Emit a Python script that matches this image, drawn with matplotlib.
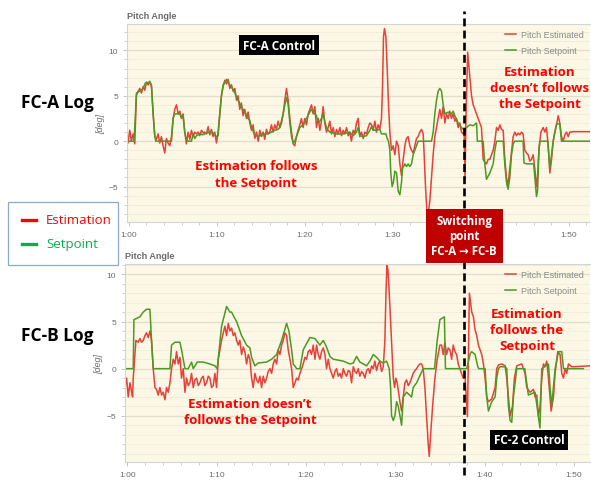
import matplotlib.pyplot as plt
from matplotlib.lines import Line2D
from matplotlib.patches import Rectangle
from matplotlib.ticker import MultipleLocator, FixedLocator

# time axis (seconds) and its labels
tick_secs = [60, 70, 80, 90, 100, 110]
tick_labels = ["1:00", "1:10", "1:20", "1:30", "1:40", "1:50"]
switch_time = 98.1  # FC-A -> FC-B, read on the top panel

# ---------------- FC-A log (top) ----------------
a_est_t = [
    59.73, 59.92, 60.11, 60.30, 60.49, 60.68, 60.87, 61.06, 61.25, 61.44,
    61.63, 61.82, 62.01, 62.20, 62.39, 62.58, 62.77, 62.96, 63.14, 63.33,
    63.52, 63.71, 63.90, 64.09, 64.28, 64.47, 64.66, 64.85, 65.04, 65.23,
    65.42, 65.61, 65.80, 65.98, 66.17, 66.36, 66.55, 66.74, 66.93, 67.12,
    67.31, 67.50, 67.69, 67.88, 68.07, 68.26, 68.45, 68.64, 68.83, 69.02,
    69.20, 69.39, 69.58, 69.77, 69.96, 70.15, 70.34, 70.53, 70.72, 70.91,
    71.10, 71.29, 71.48, 71.67, 71.86, 72.05, 72.24, 72.42, 72.61, 72.80,
    72.99, 73.18, 73.37, 73.56, 73.75, 73.94, 74.13, 74.32, 74.51, 74.70,
    74.89, 75.08, 75.27, 75.45, 75.64, 75.83, 76.02, 76.21, 76.40, 76.59,
    76.78, 76.97, 77.16,
    77.35, 77.54, 77.73, 77.92, 78.11, 78.30, 78.49, 78.68, 78.86, 79.05,
    79.24, 79.43, 79.62, 79.81, 80.00, 80.19, 80.38, 80.57, 80.76, 80.95,
    81.14, 81.33, 81.52, 81.71, 81.89, 82.08, 82.27, 82.46, 82.65, 82.84,
    83.03, 83.22, 83.41, 83.60, 83.79, 83.98, 84.17, 84.36, 84.55, 84.74,
    84.93, 85.11, 85.30, 85.49, 85.68, 85.87, 86.06, 86.25, 86.44, 86.63,
    86.82, 87.01, 87.20, 87.39, 87.58, 87.77, 87.96, 88.14, 88.33, 88.52,
    88.71, 88.83, 88.94, 89.05, 89.21, 89.36, 89.51, 89.66, 89.85, 90.04,
    90.23, 90.42, 90.61, 90.80, 90.99, 91.18, 91.37, 91.55, 91.74, 91.93,
    92.12, 92.31, 92.50, 92.69, 92.88, 93.07, 93.26, 93.45, 93.56, 93.71,
    93.86, 94.02, 94.21, 94.40, 94.58, 94.77,
    94.96, 95.15, 95.34, 95.53, 95.72, 95.91, 96.10, 96.29, 96.47, 96.66,
    96.85, 97.04, 97.23, 97.42, 97.61, 97.80, 97.99, 98.10, 98.20, 98.30,
    98.50, 98.75, 98.94, 99.13, 99.32, 99.51, 99.70, 99.88, 100.07, 100.26,
    100.45, 100.64, 100.83, 101.02, 101.21, 101.40, 101.59, 101.78, 101.97, 102.16,
    102.35, 102.54, 102.72, 102.91, 103.03, 103.18, 103.40, 103.67, 103.86, 104.05,
    104.24, 104.43, 104.62, 104.80, 105.00, 105.19, 105.38, 105.56, 105.75, 105.94,
    106.13, 106.32, 106.44, 106.59, 106.82, 107.08, 107.27, 107.46, 107.65, 107.84,
    108.03, 108.22, 108.41, 108.60, 108.79, 108.97, 109.16, 109.35, 109.54, 109.73,
    109.92, 110.11, 110.50, 112.40,
]
a_est_v = [
    0.5, -0.2, 1.2, 0.0, 0.8, -0.3, 5.0, 5.5, 5.8, 5.3,
    6.0, 5.6, 6.5, 6.2, 6.6, 6.0, 3.0, 0.5, 0.2, 0.8,
    -0.2, 0.5, -0.5, -1.3, 0.3, -0.2, -0.5, 0.5, 2.5, 3.5,
    4.0, 3.0, 3.3, 2.5, 3.0, 1.0, -0.3, 1.0, 0.2, 1.2,
    0.5, 1.0, 0.8, 1.0, 0.6, 1.2, 0.9, 1.0, 0.8, 1.6,
    0.7, 1.3, 0.5, 1.0, -0.2, 1.0, 3.0, 5.0, 6.0, 6.7,
    6.3, 6.8, 5.8, 6.2, 5.5, 5.8, 4.5, 5.0, 3.5, 4.2,
    2.8, 3.5, 2.5, 3.2, 2.0, 1.2, 1.8, 0.3, 1.0, 0.0,
    1.2, 0.5, 1.0, 0.2, 1.3, 0.8, 1.0, 1.8, 1.0, 1.8,
    1.3, 2.2, 1.5,
    2.0, 3.0, 4.5, 5.8, 4.5, 2.5, 1.0, -0.3, -0.5, 0.5,
    1.2, 1.8, 2.5, 1.5, 2.5, 1.8, 3.0, 3.5, 4.0, 3.0,
    3.8, 1.5, 2.5, 1.2, 2.2, 3.8, 2.0, 1.0, 1.5, 2.2,
    0.8, 1.5, 0.5, 1.3, 0.8, 1.5, 0.6, 1.2, 0.8, 1.5,
    0.6, 1.0, 0.0, 1.2, 0.8, 2.0, 2.5, 0.5, 1.0, 0.3,
    1.0, 0.8, 1.5, 2.0, 1.8, 1.2, 2.2, 1.0, 1.8, 1.3,
    2.5, 6.0, 11.5, 12.4, 11.5, 8.0, 4.0, 1.0, -1.0, -0.5,
    -1.5, 0.0, -0.5, -2.5, -3.8, -2.0, -0.5, 0.3, 0.5, -0.5,
    -1.0, -1.3, -0.5, 0.3, 0.5, 1.0, 1.3, 0.8, -1.5, -5.0,
    -7.5, -8.0, -6.5, -4.0, -1.5, 0.5,
    1.5, 2.5, 3.5, 2.5, 3.8, 2.0, 3.0, 2.5, 3.3, 2.5,
    3.0, 2.2, 2.5, 1.5, 2.0, 1.0, 0.8, 1.0, -4.2, 2.0,
    9.8, 7.0, 5.0, 4.0, 3.5, 3.0, 2.5, 2.0, 1.5, -2.0,
    -2.3, -2.5, -2.0, -2.0, -1.5, -1.0, 0.0, 1.5, 1.2, 1.8,
    1.3, 1.2, -2.0, -4.0, -5.0, -4.0, -2.0, 0.5, 1.0, 0.6,
    0.9, 0.7, 1.0, 0.8, -1.0, -1.3, -1.5, -2.2, -2.0, -1.5,
    -3.0, -5.0, -4.0, -1.0, 1.0, 1.5, 1.0, 1.5, -0.5, -3.5,
    -2.0, 0.0, 1.0, 1.8, 2.8, 2.0, 0.5, 0.0, 0.7, 1.0,
    0.5, 1.0, 1.05, 1.05,
]
a_set_t = [
    59.73, 60.60, 60.76, 60.87, 61.25, 61.63, 61.89, 62.39, 62.58, 62.77,
    62.96, 63.07, 64.85, 65.04, 65.23, 65.80, 65.98, 66.17, 66.36, 66.55,
    66.74, 67.12, 67.31, 67.50, 67.69, 68.07, 68.45, 68.83, 69.20, 69.58,
    69.96, 70.15, 70.34, 70.53, 70.72, 70.91, 71.10, 71.29, 71.48, 71.67,
    72.05, 72.42, 72.80, 73.18, 73.56, 73.75, 73.94, 74.32, 74.70, 75.08,
    75.45, 75.83, 76.21, 76.59, 76.97, 77.16, 77.54, 77.73, 77.92, 78.11,
    78.30, 78.49, 78.68, 78.86, 79.05, 79.24, 79.43, 79.81, 80.19, 80.57,
    80.76, 80.95, 81.33, 81.52, 81.71, 81.89, 82.08, 82.27, 82.46, 82.65,
    82.84, 83.60, 84.36, 84.74, 85.11, 85.49, 85.68, 85.87, 86.06, 86.25,
    86.63, 87.01, 87.39, 87.58, 87.77, 88.14, 88.52, 88.71, 89.21, 89.36,
    89.51, 89.66, 89.77, 89.92, 90.07, 90.23, 90.42, 90.61, 90.80, 90.99,
    91.10, 91.37, 91.55, 91.74, 91.93, 92.12, 92.31, 92.69, 92.88, 94.40,
    94.58, 94.77, 94.96, 95.15, 95.34, 95.53, 95.72, 95.91, 96.29, 96.66,
    96.85, 97.04, 97.42, 97.80, 98.10, 98.36, 98.75, 99.13, 99.51, 99.60,
    100.26, 100.45, 100.64, 101.02, 101.40, 101.59, 101.78, 102.54, 102.72, 102.91,
    103.10, 103.29, 103.48, 103.67, 103.86, 104.80, 104.90, 105.19, 106.00, 106.13,
    106.32, 106.44, 106.60, 106.70, 107.60, 107.84, 108.03, 108.22, 108.41, 108.60,
    108.97, 109.16, 112.40,
]
a_set_v = [
    0.0, 0.0, 3.0, 5.3, 5.5, 5.8, 6.4, 6.5, 6.2, 3.0,
    0.5, 0.0, 0.0, 2.5, 3.0, 3.0, 2.6, 2.8, 1.0, 0.2,
    0.0, 0.0, 0.8, 0.3, 0.6, 0.8, 0.7, 0.9, 1.0, 0.9,
    0.5, 0.6, 3.0, 5.0, 6.2, 6.5, 6.8, 6.5, 6.2, 6.0,
    5.3, 4.5, 3.8, 3.2, 2.5, 2.3, 1.5, 0.7, 0.5, 0.7,
    0.8, 0.8, 1.0, 1.2, 1.3, 1.5, 3.0, 4.0, 4.8, 4.0,
    2.0, 0.5, -0.2, 0.0, 0.5, 1.0, 1.5, 1.8, 2.5, 3.2,
    3.5, 3.2, 2.8, 2.0, 2.2, 2.5, 3.0, 2.2, 1.5, 1.2,
    1.0, 0.8, 0.8, 0.9, 1.0, 0.6, 0.8, 1.0, 1.5, 0.6,
    0.5, 0.6, 1.2, 1.6, 1.2, 1.2, 1.3, 0.8, 0.8, 0.3,
    0.0, -1.0, -3.5, -5.0, -4.5, -3.3, -3.5, -5.5, -5.9, -4.5,
    -3.0, -2.5, -2.8, -2.5, -2.8, -2.5, -1.5, -0.5, 0.0, 0.0,
    1.0, 3.0, 4.5, 5.5, 5.8, 5.5, 4.0, 3.0, 3.2, 3.0,
    3.3, 2.8, 2.0, 1.5, 1.2, 1.5, 1.8, 1.7, 2.0, 0.0,
    0.0, -2.5, -4.2, -3.5, -2.5, -1.0, 0.0, 0.0, -2.5, -4.5,
    -5.3, -4.0, -1.5, -0.3, 0.0, 0.0, -2.4, -2.5, -2.5, -4.0,
    -6.1, -5.5, -1.0, 0.0, 0.0, -3.0, -1.5, 0.0, 1.0, 1.9,
    1.9, 0.0, 0.0,
]

# ---------------- FC-B log (bottom) ----------------
b_est_t = [
    59.74, 59.93, 60.11, 60.30, 60.49, 60.60, 60.67, 60.75, 60.97, 61.23,
    61.42, 61.60, 61.79, 61.98, 62.16, 62.35, 62.54, 62.72, 62.91, 63.10,
    63.28, 63.47, 63.66, 63.84, 64.03, 64.22, 64.40, 64.59, 64.78, 64.96,
    65.15, 65.34, 65.52, 65.71, 65.90, 66.08, 66.27, 66.46, 66.64, 66.83,
    67.01, 67.20, 67.39, 67.57, 67.76, 67.95, 68.13, 68.32, 68.51, 68.69,
    68.88, 69.07, 69.25, 69.44, 69.63, 69.81, 70.00, 70.19, 70.37, 70.56,
    70.75, 70.93, 71.12, 71.31, 71.49, 71.68, 71.87, 72.05, 72.24, 72.43,
    72.61, 72.80, 72.99, 73.17, 73.36, 73.55, 73.73, 73.92, 74.10, 74.29,
    74.48, 74.66, 74.85, 75.04, 75.22, 75.41, 75.60, 75.78, 75.97, 76.16,
    76.34, 76.53, 76.72, 76.90, 77.09, 77.28, 77.46, 77.65, 77.84, 78.02,
    78.21, 78.40, 78.58, 78.77, 78.96, 79.14, 79.33, 79.52, 79.70, 79.89,
    80.07, 80.26, 80.45, 80.63, 80.82, 81.01, 81.19, 81.38, 81.57, 81.75,
    81.94, 82.13, 82.31, 82.50, 82.69, 82.87, 83.06, 83.25, 83.43, 83.62,
    83.81, 83.99, 84.18, 84.37, 84.55, 84.74, 84.93, 85.11, 85.30, 85.49,
    85.67, 85.86, 86.04, 86.23, 86.42, 86.60, 86.79, 86.98, 87.16, 87.35,
    87.54, 87.72, 87.91, 88.10, 88.28, 88.47, 88.66, 88.84, 88.96, 89.07,
    89.18, 89.33, 89.48, 89.63, 89.78, 89.93, 90.07, 90.22, 90.37, 90.52,
    90.71, 90.90, 91.08, 91.27, 91.46, 91.64, 91.83, 92.01, 92.20, 92.39,
    92.57, 92.76, 92.95, 93.13, 93.32, 93.51, 93.69, 93.81, 93.96, 94.18,
    94.44, 94.70, 95.00, 95.19, 95.37, 95.56, 95.75, 95.93, 96.12, 96.31,
    96.49, 96.68, 96.87, 97.05, 97.24, 97.43, 97.61, 97.82, 98.08, 98.30,
    98.56, 98.75, 98.94, 99.12, 99.31, 99.68, 99.87, 100.06, 100.24, 100.43,
    100.80, 101.18, 101.36, 101.55, 101.92, 102.30, 102.48, 102.67, 102.86, 103.12,
    103.34, 103.60, 104.16, 104.53, 104.72, 105.09, 105.47, 105.65, 105.84, 106.03,
    106.21, 106.40, 106.59, 106.77, 106.96, 107.15, 107.45, 107.71, 107.89, 108.19,
    108.45, 108.64, 108.83, 109.01, 109.20, 109.39, 109.76, 111.81,
]
b_est_v = [
    -2.0, -1.0, -3.0, -1.5, -2.5, -3.0, -1.0, 0.0, 3.0, 2.8,
    3.2, 2.8, 3.0, 3.5, 3.8, 3.3, 4.0, 3.0, 0.0, -2.0,
    -2.2, -2.8, -2.0, -2.8, -2.5, -3.3, -2.0, -2.5, -1.5, 0.0,
    1.0, 0.5, 1.8, 0.5, 1.2, -1.0, 0.0, -2.5, -1.0, -1.8,
    -1.5, -0.5, -2.0, -1.2, -1.0, -1.8, -1.5, -1.0, -0.8, -1.8,
    -1.5, -0.8, -1.0, -2.0, -1.8, -0.5, -2.0, 1.0, 2.0, 3.0,
    3.8, 4.5, 3.5, 4.8, 4.0, 4.3, 3.5, 3.8, 3.0, 2.5,
    3.0, 1.5, 2.3, 1.8, 0.5, 1.5, 1.0, -1.0, -2.0, -0.5,
    -1.2, -1.5, -0.8, -2.0, -0.8, -1.5, -1.0, -0.3, 0.0, -0.5,
    0.5, 1.0, 0.5, 2.0, 1.5, 2.5, 3.0, 3.8, 3.5, 2.0,
    1.0, 0.0, -2.0, -1.5, -1.0, -1.2, -0.5, 0.0, 0.5, 1.2,
    1.0, 1.8, 2.0, 1.5, 2.5, 1.0, 2.5, 1.5, 1.0, 1.8,
    2.2, 1.5, 0.0, 1.0, 0.0, -0.5, -1.0, -0.3, 0.0, -0.8,
    -0.5, -1.0, 0.0, -0.5, -0.8, -0.2, -0.3, -1.5, 0.2, -0.3,
    -0.5, 0.0, -0.8, -0.3, -0.5, -1.0, -0.2, 0.0, -0.5, 0.3,
    0.0, 0.8, -0.2, 0.5, 0.8, -0.3, 0.2, 3.0, 8.0, 11.0,
    10.5, 8.0, 5.0, 2.0, -1.0, -2.0, -1.0, -1.5, -2.5, -3.5,
    -4.5, -3.0, -1.5, -1.2, -1.8, -1.5, -1.0, -0.5, -0.2, 0.0,
    0.3, 0.5, 0.5, 0.0, -2.0, -5.0, -8.0, -9.3, -7.0, -4.0,
    -1.0, 1.0, 2.5, 2.5, 1.5, 2.8, 1.5, 2.2, 2.0, 1.0,
    2.5, 1.8, 1.5, 0.5, 0.0, -0.5, -1.0, -1.0, -5.1, 8.0,
    6.0, 5.5, 4.1, 3.5, 2.5, 1.5, 0.5, -1.0, -3.0, -3.5,
    -3.2, -2.0, 0.0, 0.4, 0.5, 0.3, -1.0, -3.0, -5.0, -4.0,
    -1.0, 0.3, 0.5, -0.5, -2.0, -2.5, -2.2, -3.0, -2.8, -5.0,
    -4.0, -1.0, 0.5, 0.2, 0.8, -1.0, -4.5, -3.0, -0.5, 1.8,
    1.5, -0.5, -1.0, 0.0, -0.5, 0.5, 0.2, 0.3,
]
b_set_t = [
    59.74, 60.67, 60.75, 61.42, 61.79, 62.16, 62.54, 62.72, 62.91, 64.78,
    64.96, 65.34, 65.90, 66.08, 66.46, 66.83, 67.20, 67.39, 67.84, 68.51,
    69.25, 69.81, 70.07, 70.56, 71.12, 71.49, 71.68, 71.94, 72.24, 72.80,
    73.36, 73.73, 73.92, 74.29, 74.66, 75.60, 76.16, 76.72, 77.28, 77.84,
    78.10, 78.40, 78.58, 78.96, 79.33, 79.70, 80.45, 81.00, 81.57, 81.94,
    82.31, 82.69, 83.06, 84.18, 84.93, 85.30, 85.67, 86.04, 86.79, 87.16,
    87.54, 87.91, 88.28, 88.66, 89.03, 89.33, 89.48, 89.59, 89.78, 89.96,
    90.15, 90.34, 90.71, 90.90, 91.27, 91.83, 92.01, 92.39, 93.13, 94.40,
    94.70, 95.00, 95.50, 95.62, 98.00, 98.40, 98.56, 98.94, 99.24, 99.35,
    100.06, 100.24, 100.43, 100.80, 101.18, 101.36, 101.55, 101.74, 102.30, 102.48,
    102.67, 102.86, 103.04, 103.23, 103.60, 104.50, 104.90, 105.65, 106.20, 106.40,
    107.15, 107.33, 107.52, 107.70, 107.90, 108.27, 108.64, 108.83, 111.06,
]
b_set_v = [
    0.0, 0.0, 5.2, 5.5, 6.0, 6.3, 6.3, 3.0, 0.0, 0.0,
    2.5, 2.8, 2.8, 2.0, 0.0, 0.0, 0.7, 0.0, 0.7, 0.7,
    0.5, 0.3, 0.0, 4.5, 6.6, 6.0, 6.0, 5.5, 5.0, 3.5,
    2.5, 2.2, 1.2, 0.3, 0.6, 0.7, 1.0, 1.5, 3.0, 4.8,
    4.0, 2.0, 0.5, 0.0, 0.0, 2.0, 3.3, 3.2, 2.5, 3.0,
    2.3, 1.3, 1.0, 0.8, 0.5, 0.6, 1.3, 0.7, 0.3, 0.8,
    1.5, 1.2, 0.8, 0.6, 0.8, 0.0, -2.0, -5.0, -5.5, -5.0,
    -3.5, -4.0, -6.0, -3.0, -2.5, -3.0, -2.0, -1.5, 0.0, 0.0,
    3.0, 5.2, 5.5, 0.0, 0.0, 1.6, 1.8, 1.5, 0.2, 0.0,
    0.0, -3.0, -4.5, -3.5, -3.0, -1.0, 0.0, 0.2, 0.2, 0.0,
    -4.0, -5.5, -5.7, -3.0, 0.0, 0.0, -2.8, -2.5, -6.3, 0.0,
    0.5, -2.0, -4.0, -2.0, 0.0, 1.8, 1.8, 0.0, 0.0,
]

RED = "#e8403a"
GREEN = "#4b9a22"
GRAY = "#6b6b6b"
W, H = 591, 481


def fig_box(x0, y0, x1, y1):
    # pixel box (top-left origin) -> figure fraction [left, bottom, width, height]
    return [x0 / W, 1 - y1 / H, (x1 - x0) / W, (y1 - y0) / H]


def style_panel(ax, xlim, ylim, labels):
    ax.set_facecolor("#fcf8e5")
    ax.set_xlim(*xlim)
    ax.set_ylim(*ylim)
    ax.yaxis.set_major_locator(FixedLocator([-5, 0, 5, 10]))
    ax.yaxis.set_minor_locator(MultipleLocator(1))
    ax.xaxis.set_major_locator(FixedLocator(tick_secs))
    ax.set_xticklabels(labels)
    ax.xaxis.set_minor_locator(MultipleLocator(2))
    ax.grid(axis="y", which="major", color="#e2decd", lw=0.9)
    ax.grid(axis="y", which="minor", color="#efebd9", lw=0.6)
    ax.set_axisbelow(True)
    ax.spines["right"].set_visible(False)
    for side in ("left", "bottom", "top"):
        ax.spines[side].set_color("#d4d4d4")
        ax.spines[side].set_linewidth(0.8)
    ax.tick_params(which="both", colors="#bdbdbd", labelcolor=GRAY,
                   labelsize=6, labelfontfamily="Liberation Sans")
    ax.tick_params(which="major", length=3, width=0.6)
    ax.tick_params(which="minor", length=2, width=0.5)
    ax.set_title("Pitch Angle", loc="left", fontsize=6.5, color=GRAY,
                 fontweight="bold", pad=4, family="Liberation Sans")
    ax.set_ylabel("[deg]", fontsize=6.5, color=GRAY, style="italic",
                  labelpad=2, family="Liberation Sans")


def plot_panel(ax, est_t, est_v, set_t, set_v):
    ax.plot(est_t, est_v, color=RED, lw=1.1, label="Pitch Estimated")
    ax.plot(set_t, set_v, color=GREEN, lw=1.1, label="Pitch Setpoint")
    leg = ax.legend(loc="upper right", frameon=False,
                    handlelength=1.3, handletextpad=0.5, labelspacing=0.75,
                    borderaxespad=0.3, prop={"family": "Liberation Sans", "size": 6.5})
    for txt in leg.get_texts():
        txt.set_color("#8a8a8a")


fig = plt.figure(figsize=(5.91, 4.81), dpi=100)
fig.patch.set_facecolor("white")

# the 1:40 label of the top panel sits under the switching box, so it is left out
top_labels = [lab if lab != "1:40" else "" for lab in tick_labels]

ax_a = fig.add_axes(fig_box(127, 25, 590, 223))
ax_b = fig.add_axes(fig_box(125, 265, 590, 463))
style_panel(ax_a, (59.8, 112.4), (-8.9, 12.9), top_labels)
style_panel(ax_b, (59.75, 111.8), (-9.9, 11.1), tick_labels)
plot_panel(ax_a, a_est_t, a_est_v, a_set_t, a_set_v)
plot_panel(ax_b, b_est_t, b_est_v, b_set_t, b_set_v)

TXT = ["Open Sans", "DejaVu Sans"]
red_kw = dict(color="#ff0000", fontsize=9.5, fontweight="bold", ha="center",
              va="center", family=TXT, linespacing=1.3)


# annotations (pixel positions converted to figure fraction)
def fx(px):
    return px / W


def fy(py):
    return 1 - py / H


fig.text(fx(256), fy(175), "Estimation follows\nthe Setpoint", **red_kw)
fig.text(fx(540), fy(89), "Estimation\ndoesn\u2019t follows\nthe Setpoint", **red_kw)
fig.text(fx(250), fy(413), "Estimation doesn\u2019t\nfollows the Setpoint", **red_kw)
fig.text(fx(527), fy(331), "Estimation\nfollows the\nSetpoint", **red_kw)

box_kw = dict(color="white", fontsize=8.5, fontweight="bold", ha="center",
              va="center", family=TXT, zorder=10)
fig.text(fx(279), fy(46), "FC-A Control",
         bbox=dict(boxstyle="square,pad=0.3", fc="black", ec="none"), **box_kw)
fig.text(fx(529), fy(441), "FC-2 Control",
         bbox=dict(boxstyle="square,pad=0.3", fc="black", ec="none"), **box_kw)

# switching line, placed at the switch time on the top panel's scale
x_disp = ax_a.transData.transform((switch_time, 0))[0]
x_fig = fig.transFigure.inverted().transform((x_disp, 0))[0]
fig.add_artist(Line2D([x_fig, x_fig], [fy(476), fy(12)], color="black",
                      lw=1.9, linestyle=(0, (3, 1.6)), zorder=20))

fig.text(x_fig, fy(237), "Switching\npoint\nFC-A \u2192 FC-B", color="white",
         fontsize=8.3, fontweight="bold", ha="center", va="center",
         family=TXT, linespacing=1.2, zorder=25,
         bbox=dict(boxstyle="square,pad=0.5", fc="#c00000", ec="none"))

# left side labels
fig.text(fx(57), fy(103), "FC-A Log", fontsize=12.5, fontweight="bold",
         ha="center", va="center", family=TXT)
fig.text(fx(57), fy(336), "FC-B Log", fontsize=12.5, fontweight="bold",
         ha="center", va="center", family=TXT)

# left legend box
fig.add_artist(Rectangle((fx(8), fy(266)), (118 - 8) / W, (266 - 203) / H,
                         transform=fig.transFigure, fc="white", ec="#8fa8c8",
                         lw=0.9, zorder=5))
fig.add_artist(Line2D([fx(22), fx(36)], [fy(221), fy(221)], color="#ff0000",
                      lw=2.4, zorder=6))
fig.add_artist(Line2D([fx(22), fx(36)], [fy(245), fy(245)], color="#00b050",
                      lw=2.4, zorder=6))
fig.text(fx(46), fy(221), "Estimation", color="#ff0000", fontsize=9.5,
         va="center", family=TXT, zorder=6)
fig.text(fx(46), fy(245), "Setpoint", color="#00b050", fontsize=9.5,
         va="center", family=TXT, zorder=6)

fig.savefig("out.png", dpi=100)
